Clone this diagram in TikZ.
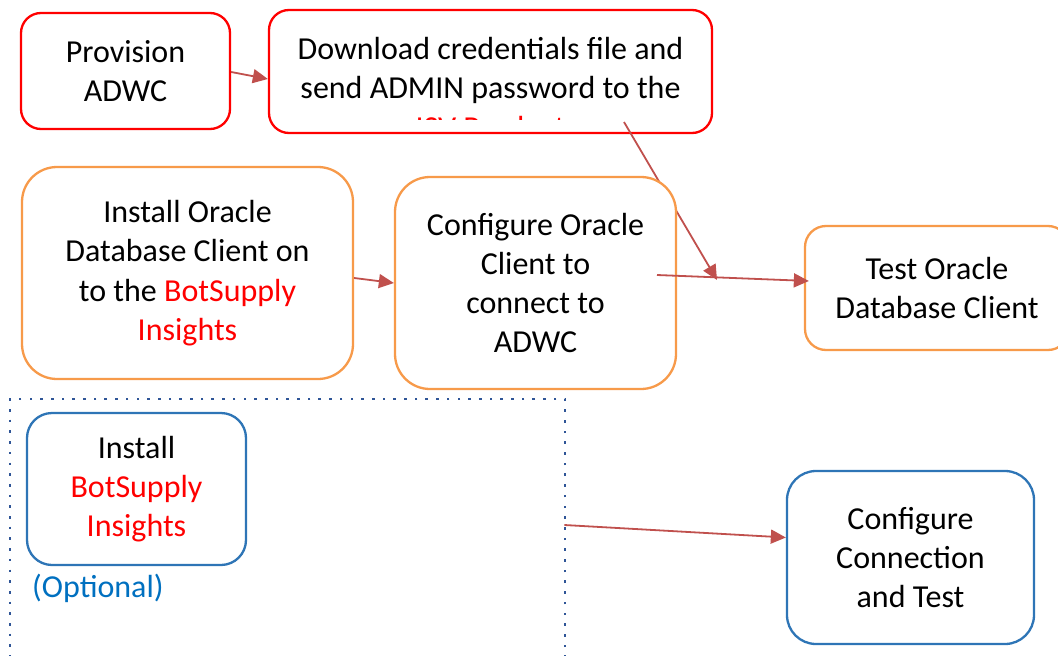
\documentclass[tikz,border=0pt]{standalone}
\usepackage{fontspec}
\setmainfont{Carlito}
\usetikzlibrary{arrows.meta,calc}
\definecolor{boxred}{HTML}{FF0000}
\definecolor{boxorange}{HTML}{F79A4A}
\definecolor{boxblue}{HTML}{2E75B6}
\definecolor{dotblue}{HTML}{2F5597}
\definecolor{arrowred}{HTML}{C0504D}
\definecolor{optblue}{HTML}{0070C0}
\definecolor{txtred}{HTML}{FF0000}
\begin{document}
\begin{tikzpicture}[x=1pt,y=-1pt,
  stepbox/.style={draw, line width=2.3pt, fill=white, align=center, inner sep=0pt,
    font=\fontsize{32}{39.3}\selectfont},
  redbox/.style={stepbox, draw=boxred, rounded corners=20pt},
  orangebox/.style={stepbox, draw=boxorange},
  bluebox/.style={stepbox, draw=boxblue},
  conn/.style={draw=arrowred, line width=1.8pt, -{Triangle[length=15pt,width=14pt]}},
]
\useasboundingbox (0,0) rectangle (1058,656);
\clip (0,0) rectangle (1058,656);

% top row
\node[redbox, minimum width=209pt, minimum height=116pt] (b1) at (125.5,71) {Provision\\ADWC};
\node[redbox, minimum width=443pt, minimum height=123pt] (b2) at (490.5,71.5) {};
\begin{scope}
  \clip (272,13) rectangle (709,119);
  \node[align=center, inner sep=0pt, font=\fontsize{32}{39.3}\selectfont] (t2) at (490.5,88)
    {Download credentials file and\\send ADMIN password to the\\\textcolor{txtred}{ISV Product}};
\end{scope}
\draw[conn] ([yshift=-1pt]b1.east) -- ([yshift=-7.5pt]b2.west);

% arrow from download box (hidden behind configure box)
\coordinate (a2s) at (624,122);
\coordinate (a2e) at (717,280);
\draw[conn] (a2s) -- (a2e);

% middle row
\node[orangebox, rounded corners=35pt, minimum width=331pt, minimum height=212pt] (b3) at (187.5,273)
  {Install Oracle\\Database Client on\\to the \textcolor{txtred}{BotSupply}\\\textcolor{txtred}{Insights}};
\node[orangebox, rounded corners=35pt, minimum width=281pt, minimum height=212pt] (b4) at (535.5,283)
  {Configure Oracle\\Client to\\connect to\\ADWC};
\node[orangebox, rounded corners=21pt, minimum width=264pt, minimum height=124pt] (b5) at (937,288)
  {Test Oracle\\Database Client};
\draw[conn] ([yshift=-5pt]b3.east) -- (b4.west);
\coordinate (a3s) at (657,275);
\draw[conn] (a3s) -- ([xshift=5pt,yshift=7pt]b5.west);

% optional group
\node[draw=dotblue, line width=2.8pt, dash pattern=on 2.6pt off 8.1pt, minimum width=555pt, minimum height=271pt, inner sep=0pt] (opt) at (287.5,534.5) {};
\node[bluebox, rounded corners=25pt, minimum width=219pt, minimum height=152pt] (b7) at (136.5,489)
  {Install\\\textcolor{txtred}{BotSupply}\\\textcolor{txtred}{Insights}};
\node[anchor=west, inner sep=0pt, text=optblue, font=\fontsize{32}{39.3}\selectfont] (optl) at (32,588) {(Optional)};
\node[bluebox, rounded corners=29pt, minimum width=247pt, minimum height=173pt] (b8) at (910.5,557.5)
  {Configure\\Connection\\and Test};
\draw[conn] ([xshift=-2pt,yshift=9.5pt]opt.east) -- ([yshift=20pt]b8.west);
\end{tikzpicture}
\end{document}
